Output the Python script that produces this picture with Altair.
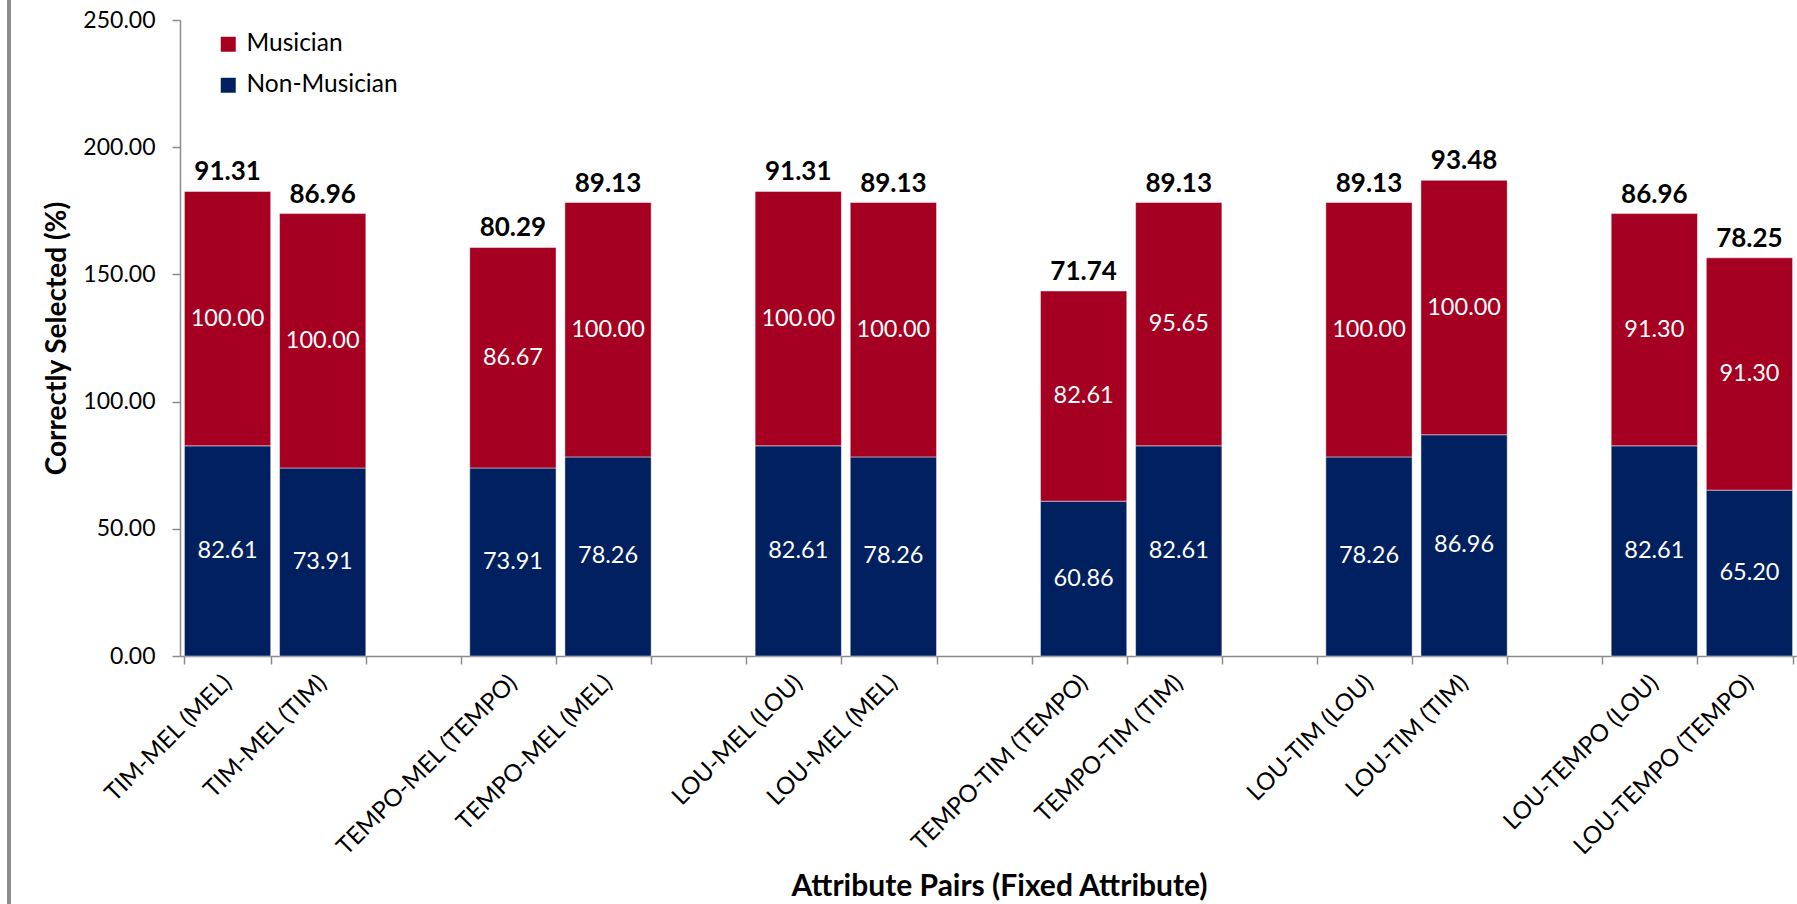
import altair as alt
import pandas as pd

# Attribute pairs (fixed attribute in parentheses), grouped in pairs
pairs = [
    "TIM-MEL (MEL)", "TIM-MEL (TIM)",
    "TEMPO-MEL (TEMPO)", "TEMPO-MEL (MEL)",
    "LOU-MEL (LOU)", "LOU-MEL (MEL)",
    "TEMPO-TIM (TEMPO)", "TEMPO-TIM (TIM)",
    "LOU-TIM (LOU)", "LOU-TIM (TIM)",
    "LOU-TEMPO (LOU)", "LOU-TEMPO (TEMPO)",
]
non_musician = [82.61, 73.91, 73.91, 78.26, 82.61, 78.26, 60.86, 82.61, 78.26, 86.96, 82.61, 65.20]
musician = [100.00, 100.00, 86.67, 100.00, 100.00, 100.00, 82.61, 95.65, 100.00, 100.00, 91.30, 91.30]
overall = [91.31, 86.96, 80.29, 89.13, 91.31, 89.13, 71.74, 89.13, 89.13, 93.48, 86.96, 78.25]

groups = ["Musician", "Non-Musician"]
colors = ["#A50021", "#002060"]

# x domain: an empty slot between each pair of bars
domain = []
for i in range(0, len(pairs), 2):
    if i > 0:
        domain.append(" " * (i // 2))
    domain += [pairs[i], pairs[i + 1]]

rows = []
for p, nm, mu in zip(pairs, non_musician, musician):
    rows.append({"Attr": p, "Group": "Non-Musician", "value": nm, "ord": 0})
    rows.append({"Attr": p, "Group": "Musician", "value": mu, "ord": 1})
df = pd.DataFrame(rows)

tot = pd.DataFrame({
    "Attr": pairs,
    "top": [a + b for a, b in zip(non_musician, musician)],
    "overall": overall,
})

FONT = "Lato"

x_enc = alt.X(
    "Attr:N",
    sort=domain,
    scale=alt.Scale(domain=domain, paddingInner=0.093, paddingOuter=0.0465),
    axis=alt.Axis(
        title="Attribute Pairs (Fixed Attribute)",
        labelAngle=-45,
        labelAlign="right",
        labelBaseline="middle",
        labelFontSize=24,
        labelPadding=15,
        labelLimit=0,
        tickBand="extent",
        tickSize=8,
        titleFontSize=30,
        titleFontWeight="bold",
        titleBaseline="alphabetic",
        titleY=239,
        titleX=819,
    ),
)

y_scale = alt.Scale(domain=[0, 250], nice=False)

bars = alt.Chart(df).mark_bar(
    stroke="#ffffff", strokeWidth=1, strokeOpacity=0.45
).encode(
    x=x_enc,
    y=alt.Y(
        "value:Q",
        stack="zero",
        scale=y_scale,
        axis=alt.Axis(
            title="Correctly Selected (%)",
            values=[0, 50, 100, 150, 200, 250],
            format=".2f",
            grid=False,
            labelFontSize=23,
            labelPadding=17,
            tickSize=8,
            titleFontSize=28,
            titleFontWeight="bold",
            titleBaseline="alphabetic",
            titleX=-115,
        ),
    ),
    color=alt.Color(
        "Group:N",
        scale=alt.Scale(domain=groups, range=colors),
        legend=alt.Legend(
            title=None,
            orient="none",
            legendX=36,
            legendY=12,
            symbolType="square",
            symbolSize=225,
            symbolStrokeWidth=0,
            labelFontSize=24.5,
            labelOffset=6,
            rowPadding=16,
        ),
    ),
    order=alt.Order("ord:Q", sort="ascending"),
)

seg_labels = alt.Chart(df).transform_stack(
    stack="value", groupby=["Attr"], as_=["v0", "v1"],
    sort=[alt.SortField("ord", order="ascending")],
).transform_calculate(
    mid="(datum.v0 + datum.v1) / 2"
).mark_text(color="white", fontSize=23.5, font=FONT).encode(
    x=alt.X("Attr:N", sort=domain),
    y=alt.Y("mid:Q", scale=y_scale),
    text=alt.Text("value:Q", format=".2f"),
)

top_labels = alt.Chart(tot).mark_text(
    fontSize=26, fontWeight="bold", font=FONT, baseline="alphabetic", dy=-11, color="black"
).encode(
    x=alt.X("Attr:N", sort=domain),
    y=alt.Y("top:Q", scale=y_scale),
    text=alt.Text("overall:Q", format=".2f"),
)

# thin frame line at the far left of the figure
frame = alt.Chart(tot).mark_rule(color="#8c8c8c", strokeWidth=2.5).encode(
    x=alt.value(-171), y=alt.value(-20), y2=alt.value(884)
)

chart = alt.layer(bars, seg_labels, top_labels, frame).properties(
    width=1617,
    height=636,
    padding={"left": 180, "top": 20, "right": 0, "bottom": 248},
    autosize=alt.AutoSizeParams(type="none"),
).configure(
    font=FONT,
).configure_view(
    stroke=None,
).configure_axis(
    labelFont=FONT,
    titleFont=FONT,
    labelColor="black",
    titleColor="black",
    domainColor="#8c8c8c",
    tickColor="#8c8c8c",
    domainWidth=1.5,
    tickWidth=1.5,
).configure_legend(
    labelFont=FONT,
    labelColor="black",
)

chart.save("out.html", embed_options={"renderer": "svg", "actions": False})
